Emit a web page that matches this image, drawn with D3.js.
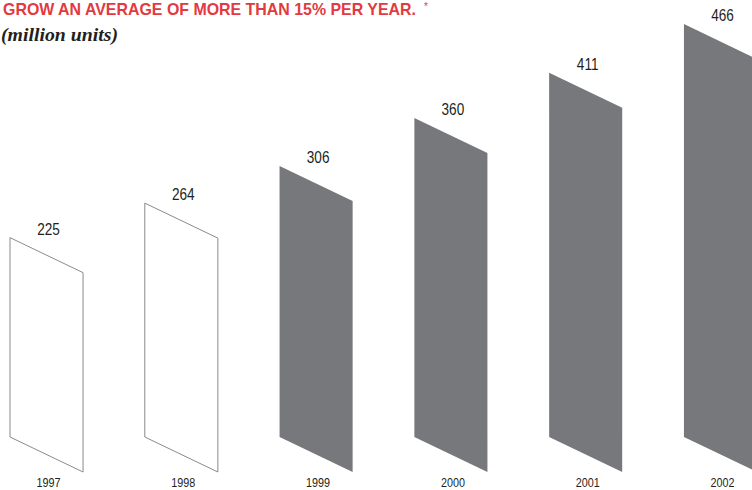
<!DOCTYPE html>
<html><head><meta charset="utf-8">
<script src="https://cdn.jsdelivr.net/npm/d3@7"></script>
<style>
html,body{margin:0;padding:0;background:#fff;}
svg{display:block;}
</style></head>
<body>
<svg id="c" width="752" height="490"></svg>
<script>
const years = ["1997","1998","1999","2000","2001","2002"];
const values = [225, 264, 306, 360, 411, 466];
const filled = [false, false, true, true, true, true];
const title = "GROW AN AVERAGE OF MORE THAN 15% PER YEAR.";
const subtitle = "(million units)";

const svg = d3.select("#c");
const base = 437, slant = 35;

const x = d3.scaleBand().domain(years).range([10, 757]).paddingInner(0.458).paddingOuter(0);
const y = d3.scaleLinear().domain([0, 500]).range([base, base - 443]);

const sans = "'Liberation Sans',Arial,Helvetica,sans-serif";

svg.append("text").attr("x", 3).attr("y", 15)
  .attr("font-family", sans).attr("font-weight", "bold").attr("font-size", 17)
  .attr("textLength", 413).attr("lengthAdjust", "spacingAndGlyphs")
  .attr("fill", "#e23a40").text(title);
svg.append("text").attr("x", 424).attr("y", 10)
  .attr("font-family", sans).attr("font-size", 10)
  .attr("fill", "#e23a40").text("*");

svg.append("text").attr("x", 1).attr("y", 41)
  .attr("font-family", "'Liberation Serif','DejaVu Serif','Times New Roman',serif")
  .attr("font-style", "italic").attr("font-weight", "bold").attr("font-size", 18)
  .attr("textLength", 117).attr("lengthAdjust", "spacingAndGlyphs")
  .attr("fill", "#231f20").text(subtitle);

const data = years.map((yr, i) => ({yr, v: values[i], f: filled[i]}));
const bw = x.bandwidth();

svg.selectAll("path.bar").data(data).enter().append("path")
  .attr("class", "bar")
  .attr("d", d => {
    const x0 = x(d.yr), x1 = x0 + bw, t = y(d.v);
    return `M${x0},${t}L${x1},${t + slant}L${x1},${base + slant}L${x0},${base}Z`;
  })
  .attr("fill", d => d.f ? "#77787c" : "none")
  .attr("stroke", d => d.f ? "none" : "#8a8a8c")
  .attr("stroke-width", 1);

svg.selectAll("text.val").data(data).enter().append("text")
  .attr("class", "val")
  .attr("transform", d => `translate(${x(d.yr) + bw / 2 + 2},${y(d.v) - 3}) scale(0.8,1)`)
  .attr("text-anchor", "middle")
  .attr("font-family", sans).attr("font-size", 17)
  .attr("fill", "#231f20").text(d => d.v);

svg.selectAll("text.yr").data(data).enter().append("text")
  .attr("class", "yr")
  .attr("transform", d => `translate(${x(d.yr) + bw / 2 + 2},487) scale(0.8,1)`)
  .attr("text-anchor", "middle")
  .attr("font-family", sans).attr("font-size", 13.5)
  .attr("fill", "#231f20").text(d => d.yr);
</script>
</body></html>
